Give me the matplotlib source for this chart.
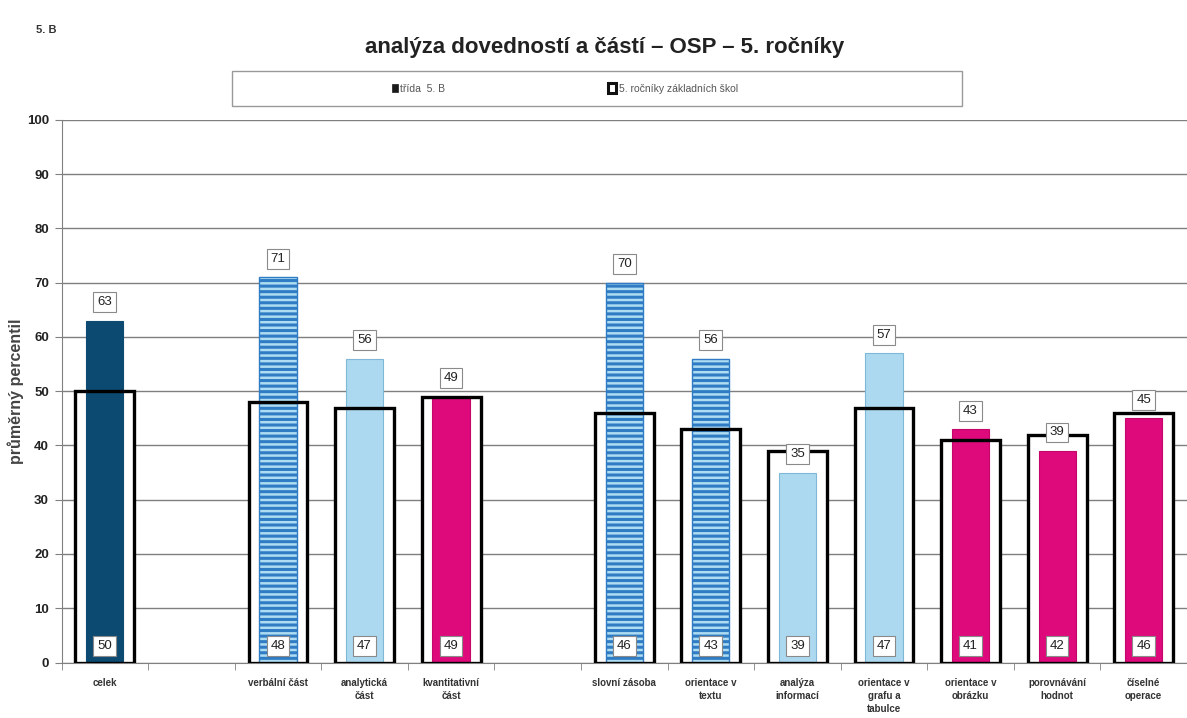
import numpy as np
import matplotlib.pyplot as plt
from matplotlib.patches import Rectangle

plt.rcParams['font.family'] = ['Liberation Sans', 'DejaVu Sans']
plt.rcParams['hatch.linewidth'] = 2.2

# slots of the category axis ('' = empty gap slot)
categories = ['celek', '', 'verbální část', 'analytická\nčást', 'kvantitativní\nčást', '',
              'slovní zásoba', 'orientace v\ntextu', 'analýza\ninformací',
              'orientace v\ngrafu a\ntabulce', 'orientace v\nobrázku', 'porovnávání\nhodnot',
              'číselné\noperace']
class_vals = [63, None, 71, 56, 49, None, 70, 56, 35, 57, 43, 39, 45]
school_vals = [50, None, 48, 47, 49, None, 46, 43, 39, 47, 41, 42, 46]
kinds = ['navy', None, 'hatch', 'light', 'pink', None,
         'hatch', 'hatch', 'light', 'light', 'pink', 'pink', 'pink']

styles = {
    'navy': dict(color='#0c4a72', edgecolor='#0c4a72', hatch=None),
    'hatch': dict(color='#aedcf2', edgecolor='#2f7cc4', hatch='---'),
    'light': dict(color='#acd9ef', edgecolor='#7fb7d6', hatch=None),
    'pink': dict(color='#de0a7b', edgecolor='#c4066b', hatch=None),
}

W, H = 1187, 718
fig = plt.figure(figsize=(W / 100, H / 100), dpi=100)
left_px, right_px, top_px, bot_px = 61.5, 1187, 120, 662.5
ax = fig.add_axes([left_px / W, (H - bot_px) / H, (right_px - left_px) / W, (bot_px - top_px) / H])

slot = 87.0
x = np.arange(len(categories))
ax.set_xlim(-0.5, -0.5 + (right_px - left_px) / slot)
ax.set_ylim(0, 100)

outer_w, inner_w = 0.68, 0.43
label_box = dict(boxstyle='square,pad=0.3', fc='white', ec='#8a8a8a', lw=0.8)

for i in range(len(categories)):
    if class_vals[i] is None:
        continue
    st = styles[kinds[i]]
    # white body of the school-average box
    ax.bar(x[i], school_vals[i], width=outer_w, color='white', edgecolor='none', zorder=2)
    if st['hatch']:
        ax.bar(x[i], class_vals[i], width=inner_w, color=st['color'], edgecolor=st['edgecolor'],
               hatch=st['hatch'], linewidth=1.0, zorder=3)
    else:
        ax.bar(x[i], class_vals[i], width=inner_w, color=st['color'], edgecolor=st['edgecolor'],
               linewidth=0.8, zorder=3)
    # outline of school-average box on top
    ax.bar(x[i], school_vals[i], width=outer_w, fill=False, edgecolor='black', linewidth=2.4, zorder=4)
    ax.text(x[i], class_vals[i] + 3.4, str(class_vals[i]), ha='center', va='center',
            fontsize=9.5, color='#222222', bbox=label_box, zorder=6)
    ax.text(x[i], 3.1, str(school_vals[i]), ha='center', va='center',
            fontsize=9.5, color='#222222', bbox=label_box, zorder=6)

ax.yaxis.grid(True, color='#7f7f7f', linewidth=1.0, zorder=0)
ax.set_axisbelow(True)
ax.set_yticks(np.arange(0, 101, 10))
ax.tick_params(axis='y', length=5, color='#808080', labelsize=9.5, pad=4, labelcolor='#222222')
for t in ax.get_yticklabels():
    t.set_fontweight('bold')

ax.set_xticks(x)
ax.set_xticklabels(categories, fontsize=7, fontweight='bold', color='#333333', linespacing=1.4)
ax.set_xticks(np.arange(-0.5, len(categories), 1), minor=True)
ax.tick_params(axis='x', which='major', length=0, pad=11)
ax.tick_params(axis='x', which='minor', length=5, color='#808080')

for s in ['top', 'right']:
    ax.spines[s].set_visible(False)
ax.spines['left'].set_color('#808080')
ax.spines['bottom'].set_color('#808080')

ax.set_ylabel('průměrný percentil', fontsize=11.5, fontweight='bold', color='#444444', labelpad=2)

fig.text(605 / W, 1 - 47 / H, 'analýza dovedností a částí – OSP – 5. ročníky', ha='center', va='center',
         fontsize=16, fontweight='bold', color='#222222')
fig.text(36 / W, 1 - 30 / H, '5. B', ha='left', va='center', fontsize=8, fontweight='bold', color='#333333')

# legend box
fig.patches.append(Rectangle((232 / W, 1 - 106 / H), (962 - 232) / W, 35 / H, transform=fig.transFigure,
                             fc='white', ec='#999999', lw=1.0))
fig.patches.append(Rectangle((392 / W, 1 - 92 / H), 6 / W, 8 / H, transform=fig.transFigure,
                             fc='#1a1a1a', ec='#1a1a1a', lw=0.5))
fig.text(400 / W, 1 - 88.5 / H, 'třída  5. B', ha='left', va='center', fontsize=7.5, color='#555555')
fig.patches.append(Rectangle((608 / W, 1 - 92.5 / H), 8 / W, 9 / H, transform=fig.transFigure,
                             fc='white', ec='#111111', lw=2.2))
fig.text(619 / W, 1 - 88.5 / H, '5. ročníky základních škol', ha='left', va='center', fontsize=7.5,
         color='#555555')

fig.savefig('out.png', dpi=100)
